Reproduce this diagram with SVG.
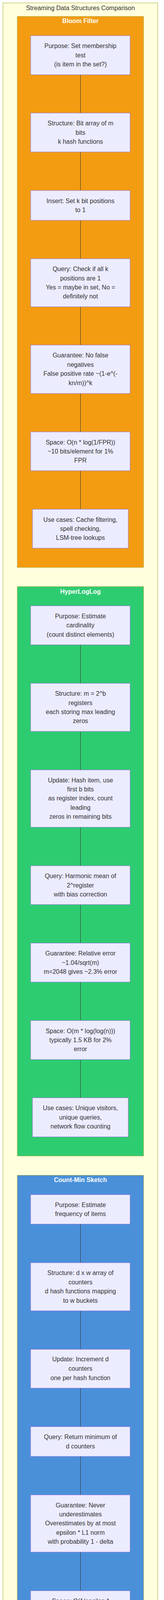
<svg xmlns="http://www.w3.org/2000/svg" width="421" height="4524" viewBox="0 0 421 4524">
<style>
.outer{fill:#ffffde;stroke:#aaaa33;stroke-width:1}
.cl{stroke:#aaaa33;stroke-width:1}
.node rect{fill:#ececff;stroke:#9370db;stroke-width:1}
.node text{font-family:"Liberation Sans",Arial,sans-serif;font-size:16px;fill:#333333;text-anchor:middle;dominant-baseline:central}
.ctitle{font-family:"Liberation Sans",Arial,sans-serif;font-size:16px;font-weight:bold;fill:#ffffff;text-anchor:middle;dominant-baseline:central}
.title{font-family:"Liberation Sans",Arial,sans-serif;font-size:16px;fill:#333333;text-anchor:middle;dominant-baseline:central}
.edges line{stroke:#333333;stroke-width:1;fill:none}
</style>
<rect width="421" height="4524" fill="#ffffff"/>
<g id="outer">
<rect class="outer" x="7.5" y="7.5" width="397.5" height="4422.5"/>
<text class="title" x="206.5" y="20">Streaming Data Structures Comparison</text>
</g>
<g id="cluster-bloom">
<rect class="cl" x="44.3" y="42" width="324.4" height="1410.7" fill="#f39c12"/>
<text class="ctitle" x="206.5" y="53.5">Bloom Filter</text>
</g>
<g id="cluster-hll">
<rect class="cl" x="44.3" y="1501.7" width="324.4" height="1457.6" fill="#2ecc71"/>
<text class="ctitle" x="206.5" y="1514">HyperLogLog</text>
</g>
<g id="cluster-cms">
<rect class="cl" x="44.3" y="3008.7" width="324.4" height="1387" fill="#4a90d9"/>
<text class="ctitle" x="206.5" y="3020">Count-Min Sketch</text>
</g>
<g class="edges" id="edges">
<line x1="206.5" y1="191.3" x2="206.5" y2="289.3"/>
<line x1="206.5" y1="389" x2="206.5" y2="487.7"/>
<line x1="206.5" y1="564" x2="206.5" y2="662.3"/>
<line x1="206.5" y1="785.3" x2="206.5" y2="883.3"/>
<line x1="206.5" y1="1007.3" x2="206.5" y2="1105.7"/>
<line x1="206.5" y1="1205" x2="206.5" y2="1303.7"/>
<line x1="206.5" y1="1650.7" x2="206.5" y2="1749.3"/>
<line x1="206.5" y1="1872.3" x2="206.5" y2="1971"/>
<line x1="206.5" y1="2117.7" x2="206.5" y2="2216.3"/>
<line x1="206.5" y1="2315.7" x2="206.5" y2="2414.3"/>
<line x1="206.5" y1="2514" x2="206.5" y2="2612.7"/>
<line x1="206.5" y1="2712.3" x2="206.5" y2="2810.3"/>
<line x1="206.5" y1="3133.7" x2="206.5" y2="3232.7"/>
<line x1="206.5" y1="3355.7" x2="206.5" y2="3454.3"/>
<line x1="206.5" y1="3553.7" x2="206.5" y2="3652.3"/>
<line x1="206.5" y1="3728.3" x2="206.5" y2="3827"/>
<line x1="206.5" y1="3973.3" x2="206.5" y2="4072.3"/>
<line x1="206.5" y1="4148" x2="206.5" y2="4246.7"/>
</g>
<g class="node" id="B1"><rect x="78.7" y="91.3" width="255.3" height="100"/>
<text x="206.5" y="117.7">Purpose: Set membership</text><text x="206.5" y="141">test</text><text x="206.5" y="164.7">(is item in the set?)</text></g>
<g class="node" id="B2"><rect x="78.7" y="289.3" width="255.3" height="99.7"/>
<text x="206.5" y="315.7">Structure: Bit array of m</text><text x="206.5" y="339">bits</text><text x="206.5" y="362.5">k hash functions</text></g>
<g class="node" id="B3"><rect x="78.7" y="487.7" width="255.3" height="76.3"/>
<text x="206.5" y="514">Insert: Set k bit positions</text><text x="206.5" y="537.3">to 1</text></g>
<g class="node" id="B4"><rect x="78.7" y="662.3" width="255.3" height="123"/>
<text x="206.5" y="688.7">Query: Check if all k</text><text x="206.5" y="712">positions are 1</text><text x="206.5" y="735.5">Yes = maybe in set, No =</text><text x="206.5" y="758.9">definitely not</text></g>
<g class="node" id="B5"><rect x="78.7" y="883.3" width="255.3" height="124"/>
<text x="206.5" y="909.7">Guarantee: No false</text><text x="206.5" y="933.3">negatives</text><text x="206.5" y="956.7">False positive rate ~(1-e^(-</text><text x="206.5" y="980.3">kn/m))^k</text></g>
<g class="node" id="B6"><rect x="78.7" y="1105.7" width="255.3" height="99.3"/>
<text x="206.5" y="1132">Space: O(n * log(1/FPR))</text><text x="206.5" y="1155.5">~10 bits/element for 1%</text><text x="206.5" y="1178.9">FPR</text></g>
<g class="node" id="B7"><rect x="83.3" y="1303.7" width="246" height="99.6"/>
<text x="206.5" y="1330">Use cases: Cache filtering,</text><text x="206.5" y="1353.5">spell checking,</text><text x="206.5" y="1376.9">LSM-tree lookups</text></g>
<g class="node" id="H1"><rect x="78.7" y="1551" width="255.3" height="99.7"/>
<text x="206.5" y="1577.2">Purpose: Estimate</text><text x="206.5" y="1600.7">cardinality</text><text x="206.5" y="1624.1">(count distinct elements)</text></g>
<g class="node" id="H2"><rect x="78.7" y="1749.3" width="255.3" height="123"/>
<text x="206.5" y="1775.7">Structure: m = 2^b</text><text x="206.5" y="1799.1">registers</text><text x="206.5" y="1822.5">each storing max leading</text><text x="206.5" y="1845.9">zeros</text></g>
<g class="node" id="H3"><rect x="78.7" y="1971" width="255.3" height="146.7"/>
<text x="206.5" y="1997">Update: Hash item, use</text><text x="206.5" y="2020.4">first b bits</text><text x="206.5" y="2043.8">as register index, count</text><text x="206.5" y="2067.2">leading</text><text x="206.5" y="2090.6"> zeros in remaining bits</text></g>
<g class="node" id="H4"><rect x="78.7" y="2216.3" width="255.3" height="99.4"/>
<text x="206.5" y="2242.5">Query: Harmonic mean of</text><text x="206.5" y="2266">2^register</text><text x="206.5" y="2289.4">with bias correction</text></g>
<g class="node" id="H5"><rect x="78.7" y="2414.3" width="255.3" height="99.7"/>
<text x="206.5" y="2440.7">Guarantee: Relative error</text><text x="206.5" y="2464.1">~1.04/sqrt(m)</text><text x="206.5" y="2487.6">m=2048 gives ~2.3% error</text></g>
<g class="node" id="H6"><rect x="78.7" y="2612.7" width="255.3" height="99.6"/>
<text x="206.5" y="2639">Space: O(m * log(log(n)))</text><text x="206.5" y="2662.5">typically 1.5 KB for 2%</text><text x="206.5" y="2685.9">error</text></g>
<g class="node" id="H7"><rect x="83.3" y="2810.3" width="246" height="100"/>
<text x="206.5" y="2836.7">Use cases: Unique visitors,</text><text x="206.5" y="2860.1">unique queries,</text><text x="206.5" y="2883.5">network flow counting</text></g>
<g class="node" id="C1"><rect x="78.7" y="3058.3" width="255.3" height="75.4"/>
<text x="206.5" y="3084.3">Purpose: Estimate</text><text x="206.5" y="3107.7">frequency of items</text></g>
<g class="node" id="C2"><rect x="78.7" y="3232.7" width="255.3" height="123"/>
<text x="206.5" y="3258.9">Structure: d x w array of</text><text x="206.5" y="3282.3">counters</text><text x="206.5" y="3305.7">d hash functions mapping</text><text x="206.5" y="3329.1">to w buckets</text></g>
<g class="node" id="C3"><rect x="78.7" y="3454.3" width="255.3" height="99.4"/>
<text x="206.5" y="3479.7">Update: Increment d</text><text x="206.5" y="3503.5">counters</text><text x="206.5" y="3527.3">one per hash function</text></g>
<g class="node" id="C4"><rect x="78.7" y="3652.3" width="255.3" height="76"/>
<text x="206.5" y="3678.6">Query: Return minimum of</text><text x="206.5" y="3702">d counters</text></g>
<g class="node" id="C5"><rect x="78.7" y="3827" width="255.3" height="146.3"/>
<text x="206.5" y="3853">Guarantee: Never</text><text x="206.5" y="3876.4">underestimates</text><text x="206.5" y="3899.8">Overestimates by at most</text><text x="206.5" y="3923.2">epsilon * L1 norm</text><text x="206.5" y="3946.6">with probability 1 - delta</text></g>
<g class="node" id="C6"><rect x="78.7" y="4072.3" width="255.3" height="75.7"/>
<text x="206.5" y="4098.5">Space: O(1/epsilon *</text><text x="206.5" y="4121.9">log(1/delta))</text></g>
<g class="node" id="C7"><rect x="88.7" y="4246.7" width="235.6" height="99.6"/>
<text x="206.5" y="4273">Use cases: Heavy hitters,</text><text x="206.5" y="4296.5">frequency estimation,</text><text x="206.5" y="4320">join size estimation</text></g>
</svg>
